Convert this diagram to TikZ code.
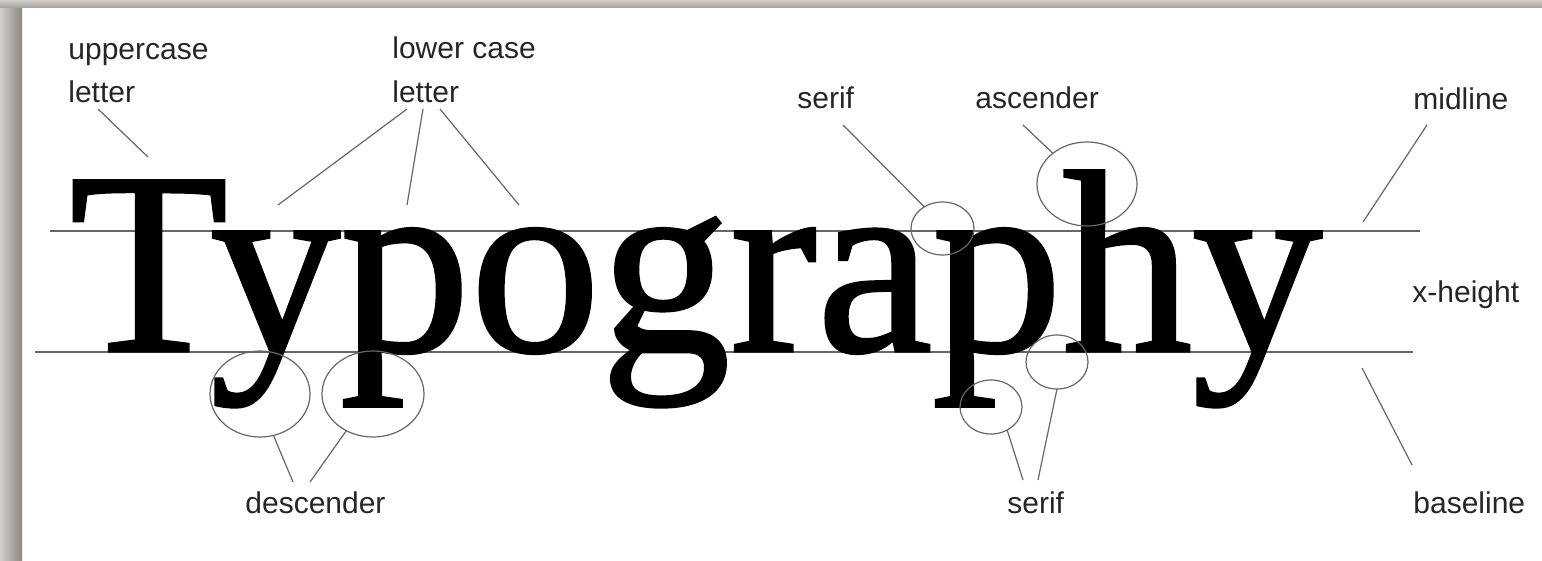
\documentclass[tikz,border=0pt]{standalone}
\usepackage{fontspec}
\setmainfont{Liberation Sans}
\newfontfamily\typoserif[FakeBold=1.2]{Liberation Serif}
\usepackage{xcolor}
\usepackage{tikz}
\usetikzlibrary{shapes.geometric}
\definecolor{frameout}{HTML}{D2CECA}
\definecolor{framein}{HTML}{8C8985}

\begin{document}
\begin{tikzpicture}[x=0.5pt,y=-0.5pt,
  lbl/.style={anchor=base west,inner sep=0pt,text=black!85,font=\fontsize{15}{18}\selectfont},
  guide/.style={line width=0.65pt,black!60},
  lead/.style={line width=0.6pt,black!60},
  ring/.style={ellipse,draw=black!60,line width=0.6pt,inner sep=0pt,outer sep=0pt}]
\useasboundingbox (0,0) rectangle (1542,561);
\fill[white] (0,0) rectangle (1542,561);
\shade[left color=frameout,right color=framein] (0,0) rectangle (22,561);
\shade[top color=frameout,bottom color=framein!80] (0,0) rectangle (1542,8);

\draw[guide] (50,231) -- (1420,231);
\draw[guide] (35,352) -- (1413,352);
\node[anchor=base west,inner sep=0pt,font={\typoserif\fontsize{130}{130}\selectfont}] (word) at (69,351) {Typography};

\node[lbl] (upc) at (68,60) {uppercase};
\node[lbl] (upcb) at (68,103) {letter};
\node[lbl] (lwc) at (392,59) {lower case};
\node[lbl] (lwcb) at (392,103) {letter};
\node[lbl] (srfa) at (797,109) {serif};
\node[lbl] (asc) at (975,109) {ascender};
\node[lbl] (mid) at (1413,110) {midline};
\node[lbl] (xht) at (1412,303) {x-height};
\node[lbl] (dsc) at (245,513) {descender};
\node[lbl] (srfb) at (1007,513) {serif};
\node[lbl] (bsl) at (1413,513) {baseline};

\node[ring,minimum width=50pt,minimum height=43pt] (e1) at (260,394) {};
\node[ring,minimum width=51pt,minimum height=43pt] (e2) at (373,394) {};
\node[ring,minimum width=31.5pt,minimum height=26.5pt] (e3) at (942.5,228.5) {};
\node[ring,minimum width=50pt,minimum height=42pt] (e4) at (1087,184) {};
\node[ring,minimum width=31pt,minimum height=27pt] (e5) at (1057,362) {};
\node[ring,minimum width=31pt,minimum height=27pt] (e6) at (991,407) {};

\coordinate (upcA) at (98,109);
\coordinate (upcB) at (148,157);
\coordinate (lcA1) at (407,109);
\coordinate (lcA2) at (423,109);
\coordinate (lcA3) at (440,109);
\coordinate (lcB1) at (278,205);
\coordinate (lcB2) at (407,205);
\coordinate (lcB3) at (519,205);
\coordinate (srfaA) at (843,125);
\coordinate (ascA) at (1023,125);
\coordinate (midA) at (1427,125);
\coordinate (midB) at (1363,222);
\coordinate (bslA) at (1362,368);
\coordinate (bslB) at (1412,465);
\coordinate (dscA) at (293,482);
\coordinate (dscB) at (310,482);
\coordinate (srfbA) at (1023,480);
\coordinate (srfbB) at (1038,480);

\draw[lead] (upcA) -- (upcB);
\draw[lead] (lcA1) -- (lcB1);
\draw[lead] (lcA2) -- (lcB2);
\draw[lead] (lcA3) -- (lcB3);
\draw[lead] (srfaA) -- (e3.130.7);
\draw[lead] (ascA) -- (e4.138);
\draw[lead] (midA) -- (midB);
\draw[lead] (bslA) -- (bslB);
\draw[lead] (dscA) -- (e1.-72);
\draw[lead] (dscB) -- (e2.-126);
\draw[lead] (srfbA) -- (e6.-55);
\draw[lead] (srfbB) -- (e5.south);
\end{tikzpicture}
\end{document}
